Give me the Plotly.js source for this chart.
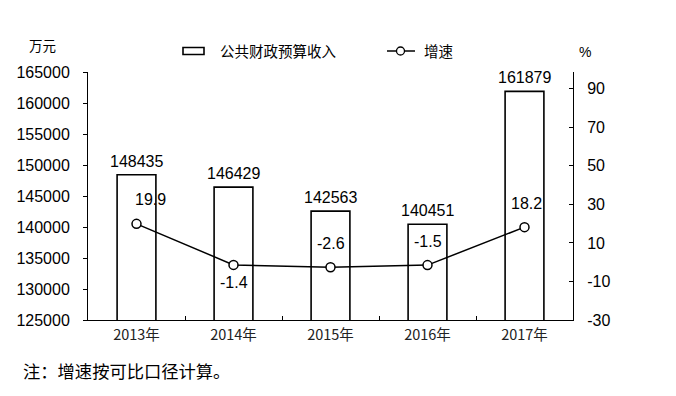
<!DOCTYPE html>
<html>
<head>
<meta charset="utf-8">
<script src="https://cdn.plot.ly/plotly-3.0.1.min.js"></script>
<style>html,body{margin:0;padding:0;background:#fff;}#chart{width:676px;height:396px;}</style>
</head>
<body>
<div id="chart"></div>
<script>
const categories = ["2013年", "2014年", "2015年", "2016年", "2017年"];
const revenue = [148435, 146429, 142563, 140451, 161879];
const growth = [19.9, -1.4, -2.6, -1.5, 18.2];
const leftTicks = [125000, 130000, 135000, 140000, 145000, 150000, 155000, 160000, 165000];
const rightTicks = [-30, -10, 10, 30, 50, 70, 90];
const barName = "公共财政预算收入";
const lineName = "增速";
const leftUnit = "万元";
const rightUnit = "%";
const footnote = "注：增速按可比口径计算。";

// label placement styling (kept separate from data)
const growthLabelShift = [{x: 14, y: 24}, {x: 0, y: -18}, {x: 0, y: 24}, {x: 0, y: 24}, {x: 2, y: 24}];

const W = 676, H = 396, L = 88, R = 103, T = 72, B = 76;
const pw = W - L - R, ph = H - T - B;
const px = v => (v - L) / pw;
const py = v => (H - B - v) / ph;

const sans = "Liberation Sans, Arial, Noto Sans CJK SC, sans-serif";
const cjk = "Noto Sans CJK SC, Liberation Sans, sans-serif";

const barTrace = {
  type: "bar", x: categories, y: revenue, width: 0.4,
  marker: {color: "#ffffff", line: {color: "#000000", width: 1.6}},
  hoverinfo: "none", showlegend: false
};
const lineTrace = {
  type: "scatter", mode: "lines+markers", x: categories, y: growth, yaxis: "y2",
  line: {color: "#000000", width: 1.5},
  marker: {symbol: "circle", size: 9, color: "#ffffff", line: {color: "#000000", width: 1.5}},
  hoverinfo: "none", showlegend: false, cliponaxis: false
};

const annotations = [];
categories.forEach((c, i) => {
  annotations.push({x: c, y: revenue[i], xref: "x", yref: "y", text: String(revenue[i]),
    showarrow: false, xanchor: "center", yanchor: "bottom", yshift: 3, font: {family: sans, size: 16, color: "#000"}});
  annotations.push({x: c, y: growth[i], xref: "x", yref: "y2", text: String(growth[i]),
    showarrow: false, xanchor: "center", yanchor: "middle", xshift: growthLabelShift[i].x, yshift: growthLabelShift[i].y,
    font: {family: sans, size: 16, color: "#000"}});
});
const paperNote = (x, y, text, font, xanchor) => ({xref: "paper", yref: "paper", x: px(x), y: py(y), text: text,
  showarrow: false, xanchor: xanchor || "center", yanchor: "middle", font: font});
annotations.push(paperNote(42, 45, leftUnit, {family: cjk, size: 13.5, color: "#000"}));
annotations.push(paperNote(585, 52, rightUnit, {family: sans, size: 14, color: "#000"}));
annotations.push(paperNote(21, 370, footnote, {family: cjk, size: 17.3, color: "#000"}, "left"));
annotations.push(paperNote(218, 51, barName, {family: cjk, size: 14.5, color: "#000"}, "left"));
annotations.push(paperNote(422, 51, lineName, {family: cjk, size: 14.5, color: "#000"}, "left"));

const shapes = [
  {type: "rect", xref: "paper", yref: "paper", x0: px(183), x1: px(204), y0: py(47.5), y1: py(54.5),
    line: {color: "#000", width: 1.6}, fillcolor: "#fff"},
  {type: "line", xref: "paper", yref: "paper", x0: px(387), x1: px(415), y0: py(51), y1: py(51),
    line: {color: "#000", width: 1.5}},
  {type: "circle", xref: "paper", yref: "paper", x0: px(396.5), x1: px(404.5), y0: py(47), y1: py(55),
    line: {color: "#000", width: 1.3}, fillcolor: "#fff"}
];

const layout = {
  width: W, height: H,
  margin: {l: L, r: R, t: T, b: B, pad: 0},
  paper_bgcolor: "#ffffff", plot_bgcolor: "#ffffff",
  showlegend: false,
  font: {family: sans, color: "#000"},
  xaxis: {
    type: "category", range: [-0.5, 4.5], showline: true, linecolor: "#000", linewidth: 1,
    ticks: "inside", tickson: "boundaries", ticklen: 4, tickcolor: "#000", showgrid: false, zeroline: false,
    tickfont: {family: cjk, size: 14.5, color: "#222"}, fixedrange: true, ticklabelstandoff: 2
  },
  yaxis: {
    range: [125000, 165000], tickvals: leftTicks, ticktext: leftTicks.map(String),
    showline: true, linecolor: "#000", linewidth: 1, ticks: "outside", ticklen: 4, tickcolor: "#000",
    showgrid: false, zeroline: false, tickfont: {family: sans, size: 16, color: "#000"},
    ticklabelstandoff: 10
  },
  yaxis2: {
    overlaying: "y", side: "right", range: [-30, 90 + 18 * 120 / 248],
    tickvals: rightTicks, ticktext: rightTicks.map(String),
    showline: true, linecolor: "#000", linewidth: 1, ticks: "inside", ticklen: 4, tickcolor: "#000",
    showgrid: false, zeroline: false, tickfont: {family: sans, size: 16, color: "#000"},
    ticklabelstandoff: 10
  },
  annotations: annotations,
  shapes: shapes
};

Plotly.newPlot("chart", [barTrace, lineTrace], layout, {displayModeBar: false, staticPlot: true});
</script>
</body>
</html>
